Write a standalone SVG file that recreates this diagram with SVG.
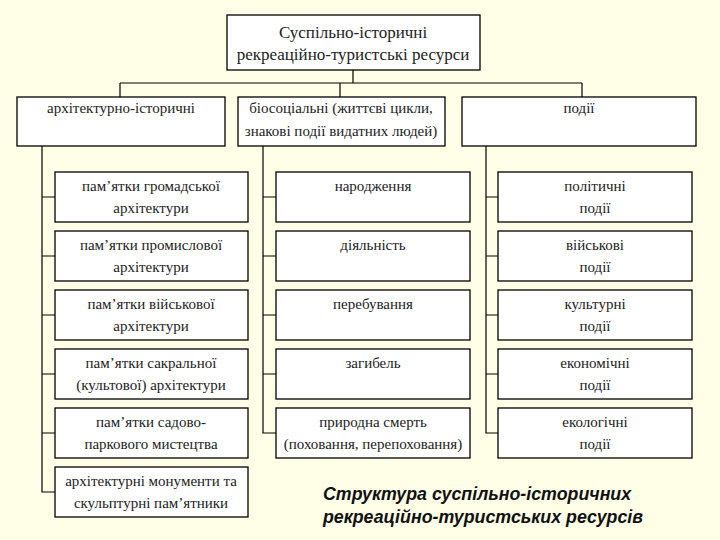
<svg xmlns="http://www.w3.org/2000/svg" width="720" height="540" viewBox="0 0 720 540">
<style>
.b{fill:#fff;stroke:#000;stroke-width:1.3}
.t{font-family:"Liberation Serif","Times New Roman",serif;font-size:15px;fill:#222;text-anchor:middle}
.tt{font-size:17px}
.c{fill:none;stroke:#000;stroke-width:1.2}
.cap{font-family:"Liberation Sans",sans-serif;font-size:17.8px;font-weight:bold;font-style:italic;fill:#111}
</style>
<rect width="720" height="540" fill="#FFFFE8"/>
<g id="connectors" class="c">
<path d="M353 70V83M120 83H582M120 83V97M340 83V97M582 83V97"/>
<path d="M42 146V492H55M42 197H55M42 256H55M42 315H55M42 374H55M42 433H55"/>
<path d="M263 146V433H276M263 197H276M263 256H276M263 315H276M263 374H276"/>
<path d="M486 146V433H498M486 197H498M486 256H498M486 315H498M486 374H498"/>
</g>
<g id="top"><rect class="b" x="227" y="15" width="253" height="55"/><text class="t tt" x="353" y="38">Суспільно-історичні</text><text class="t tt" x="353" y="60">рекреаційно-туристські  ресурси</text></g>
<g id="a"><rect class="b" x="17" y="97" width="208" height="49"/><text class="t" x="121" y="113">архітектурно-історичні</text></g>
<g id="b"><rect class="b" x="238" y="97" width="207" height="49"/><text class="t" x="341" y="113">біосоціальні (життєві цикли,</text><text class="t" x="341" y="136">знакові події видатних людей)</text></g>
<g id="c"><rect class="b" x="462" y="97" width="234" height="49"/><text class="t" x="579" y="113">події</text></g>
<g id="a1"><rect class="b" x="55" y="172" width="193" height="50"/><text class="t" x="151" y="191">пам’ятки громадської</text><text class="t" x="151" y="213">архітектури</text></g>
<g id="a2"><rect class="b" x="55" y="231" width="193" height="50"/><text class="t" x="151" y="250">пам’ятки  промислової</text><text class="t" x="151" y="272">архітектури</text></g>
<g id="a3"><rect class="b" x="55" y="290" width="193" height="50"/><text class="t" x="151" y="309">пам’ятки військової</text><text class="t" x="151" y="331">архітектури</text></g>
<g id="a4"><rect class="b" x="55" y="349" width="193" height="50"/><text class="t" x="151" y="368">пам’ятки сакральної</text><text class="t" x="151" y="390">(культової) архітектури</text></g>
<g id="a5"><rect class="b" x="55" y="408" width="193" height="50"/><text class="t" x="151" y="427">пам’ятки садово-</text><text class="t" x="151" y="449">паркового мистецтва</text></g>
<g id="a6"><rect class="b" x="55" y="467" width="193" height="50"/><text class="t" x="151" y="486">архітектурні монументи та</text><text class="t" x="151" y="508">скульптурні пам’ятники</text></g>
<g id="b1"><rect class="b" x="276" y="172" width="194" height="50"/><text class="t" x="373" y="191">народження</text></g>
<g id="b2"><rect class="b" x="276" y="231" width="194" height="50"/><text class="t" x="373" y="250">діяльність</text></g>
<g id="b3"><rect class="b" x="276" y="290" width="194" height="50"/><text class="t" x="373" y="309">перебування</text></g>
<g id="b4"><rect class="b" x="276" y="349" width="194" height="50"/><text class="t" x="373" y="368">загибель</text></g>
<g id="b5"><rect class="b" x="276" y="408" width="194" height="50"/><text class="t" x="373" y="427">природна смерть</text><text class="t" x="373" y="449">(поховання, перепоховання)</text></g>
<g id="c1"><rect class="b" x="498" y="172" width="194" height="50"/><text class="t" x="595" y="191">політичні</text><text class="t" x="595" y="213">події</text></g>
<g id="c2"><rect class="b" x="498" y="231" width="194" height="50"/><text class="t" x="595" y="250">військові</text><text class="t" x="595" y="272">події</text></g>
<g id="c3"><rect class="b" x="498" y="290" width="194" height="50"/><text class="t" x="595" y="309">культурні</text><text class="t" x="595" y="331">події</text></g>
<g id="c4"><rect class="b" x="498" y="349" width="194" height="50"/><text class="t" x="595" y="368">економічні</text><text class="t" x="595" y="390">події</text></g>
<g id="c5"><rect class="b" x="498" y="408" width="194" height="50"/><text class="t" x="595" y="427">екологічні</text><text class="t" x="595" y="449">події</text></g>
<text class="cap" x="323" y="500">Структура суспільно-історичних</text>
<text class="cap" x="323" y="523">рекреаційно-туристських ресурсів</text>
</svg>
